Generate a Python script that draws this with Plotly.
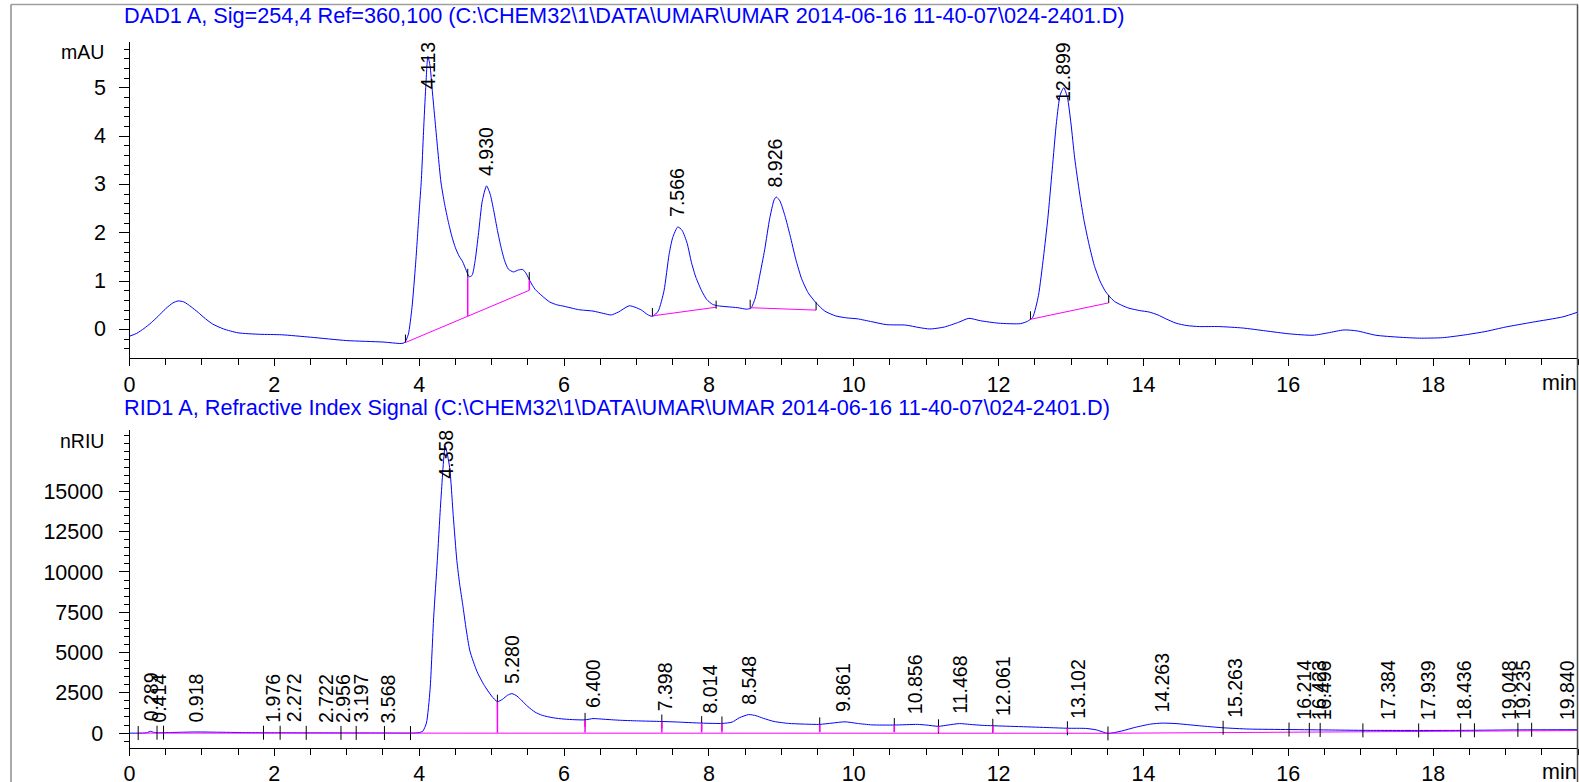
import plotly.graph_objects as go

W, H = 1579, 782
FONT = "Liberation Sans, Arial, sans-serif"
BLUE = "#0000FF"
MAG = "#FF00FF"

# ---------------- DAD1 A (upper chromatogram), time [min] / mAU ----------------
dad_t = [0.00, 0.10, 0.20, 0.30, 0.40, 0.50, 0.60, 0.67, 0.75, 0.85, 0.95, 1.05, 1.15, 1.30,
         1.50, 1.80, 2.10, 2.50, 3.00, 3.50, 3.75, 3.80, 3.85, 3.90, 3.95, 4.00, 4.03, 4.06,
         4.09, 4.12, 4.15, 4.18, 4.22, 4.26, 4.30, 4.35, 4.40, 4.45, 4.50, 4.55, 4.60, 4.65,
         4.69, 4.73, 4.77, 4.82, 4.87, 4.93, 4.98, 5.03, 5.08, 5.13, 5.18, 5.23, 5.30, 5.37,
         5.43, 5.48, 5.53, 5.60, 5.70, 5.80, 5.90, 6.00, 6.20, 6.40, 6.55, 6.65, 6.75, 6.90,
         6.98, 7.07, 7.15, 7.22, 7.30, 7.38, 7.45, 7.50, 7.57, 7.63, 7.70, 7.76, 7.82, 7.90,
         7.97, 8.05, 8.12, 8.25, 8.40, 8.52, 8.58, 8.64, 8.70, 8.77, 8.84, 8.90, 8.93, 8.98,
         9.05, 9.12, 9.20, 9.28, 9.37, 9.48, 9.60, 9.75, 9.90, 10.05, 10.25, 10.45, 10.72,
         10.90, 11.05, 11.25, 11.45, 11.59, 11.75, 12.00, 12.30, 12.40, 12.47, 12.55, 12.62,
         12.68, 12.74, 12.80, 12.85, 12.90, 12.95, 13.00, 13.05, 13.12, 13.18, 13.25, 13.32,
         13.40, 13.47, 13.52, 13.60, 13.70, 13.80, 13.95, 14.08, 14.20, 14.31, 14.45, 14.60,
         14.77, 15.04, 15.37, 15.69, 16.01, 16.34, 16.55, 16.77, 16.95, 17.21, 17.53, 17.81,
         18.13, 18.45, 18.73, 19.00, 19.37, 19.79, 20.00]
dad_v = [-0.14, -0.08, 0.02, 0.14, 0.28, 0.43, 0.55, 0.59, 0.57, 0.47, 0.35, 0.22, 0.11, 0.01,
         -0.07, -0.10, -0.11, -0.16, -0.23, -0.26, -0.29, -0.27, -0.10, 0.45, 1.35, 2.45, 3.10, 4.10,
         5.00, 5.65, 5.45, 4.95, 4.30, 3.65, 3.05, 2.60, 2.24, 1.93, 1.69, 1.52, 1.40, 1.22,
         1.09, 1.12, 1.40, 2.00, 2.65, 2.97, 2.80, 2.45, 2.05, 1.70, 1.42, 1.25, 1.19, 1.23,
         1.24, 1.15, 1.00, 0.83, 0.69, 0.57, 0.51, 0.48, 0.41, 0.38, 0.33, 0.30, 0.36, 0.49,
         0.46, 0.40, 0.31, 0.27, 0.38, 0.80, 1.55, 1.90, 2.12, 2.05, 1.78, 1.38, 1.08, 0.80,
         0.62, 0.52, 0.49, 0.47, 0.45, 0.42, 0.44, 0.65, 1.10, 1.65, 2.30, 2.68, 2.74, 2.66,
         2.35, 1.95, 1.45, 1.05, 0.76, 0.55, 0.38, 0.28, 0.24, 0.22, 0.16, 0.10, 0.09,
         0.04, 0.01, 0.05, 0.15, 0.23, 0.18, 0.13, 0.12, 0.17, 0.25, 0.70, 1.50,
         2.30, 3.30, 4.30, 4.85, 5.00, 4.80, 4.25, 3.55, 2.80, 2.25, 1.75, 1.33,
         1.00, 0.80, 0.70, 0.58, 0.50, 0.44, 0.39, 0.36, 0.30, 0.22, 0.13, 0.08,
         0.06, 0.06, 0.03, -0.03, -0.09, -0.12, -0.07, -0.01, -0.03, -0.12, -0.16, -0.18,
         -0.17, -0.11, -0.04, 0.05, 0.15, 0.26, 0.36]

dad_peak_t = [4.113, 4.930, 7.566, 8.926, 12.899]
dad_peak_v = [5.65, 2.97, 2.12, 2.74, 5.00]
dad_peak_lbl = ["4.113", "4.930", "7.566", "8.926", "12.899"]

# integration baselines (start/end)
dad_base_t0 = [3.81, 7.22, 8.57, 12.44]
dad_base_v0 = [-0.27, 0.28, 0.45, 0.21]
dad_base_t1 = [5.52, 8.10, 9.48, 13.52]
dad_base_v1 = [0.81, 0.46, 0.40, 0.55]
# drop lines (baseline -> signal)
dad_drop_t = [4.67, 5.52]
dad_drop_lo = [0.28, 0.81]
dad_drop_hi = [1.09, 1.02]
# peak start/end event ticks
dad_tick_t = [3.81, 4.67, 5.52, 7.22, 8.10, 8.57, 9.48, 12.44, 13.52]
dad_tick_v = [-0.27, 1.09, 1.02, 0.28, 0.43, 0.45, 0.40, 0.21, 0.55]

# ---------------- RID1 A (lower chromatogram), time [min] / nRIU ----------------
rid_t = [0.00, 0.20, 0.25, 0.29, 0.33, 0.40, 0.50, 0.70, 0.92, 1.20, 1.60, 2.00, 2.50, 3.00,
         3.50, 3.90, 4.00, 4.05, 4.10, 4.15, 4.20, 4.25, 4.30, 4.36, 4.42, 4.47, 4.52, 4.56,
         4.60, 4.65, 4.70, 4.80, 4.90, 5.00, 5.08, 5.15, 5.22, 5.28, 5.35, 5.42, 5.50, 5.60,
         5.70, 5.85, 6.00, 6.15, 6.29, 6.40, 6.55, 6.76, 7.00, 7.35, 7.55, 7.90, 8.18, 8.32,
         8.42, 8.55, 8.65, 8.75, 8.90, 9.10, 9.30, 9.53, 9.70, 9.88, 10.05, 10.25, 10.56,
         10.88, 11.00, 11.17, 11.30, 11.46, 11.60, 11.78, 11.92, 12.31, 12.70, 12.95, 13.20,
         13.35, 13.51, 13.70, 13.88, 14.10, 14.26, 14.45, 14.77, 15.10, 15.46, 16.01, 16.61,
         17.07, 17.81, 18.45, 19.19, 20.00]
rid_v = [0, 0, 40, 110, 50, 20, 30, 50, 70, 55, 30, 20, 15, 10,
         5, 0, 30, 120, 630, 2700, 7200, 10700, 14500, 17800, 16500, 13500, 10700, 9200,
         8000, 6400, 5100, 3800, 2950, 2300, 1950, 2100, 2350, 2450, 2300, 2000, 1650, 1300,
         1100, 950, 870, 830, 820, 900, 860, 800, 760, 720, 690, 620, 600, 680,
         950, 1150, 1080, 920, 720, 600, 560, 540, 620, 700, 600, 510, 500,
         540, 500, 420, 500, 590, 540, 480, 455, 400, 340, 300, 290,
         200, -20, 130, 350, 560, 620, 590, 455, 330, 250, 220, 190,
         170, 165, 170, 200, 210]

rid_peak_t = [0.289, 0.414, 0.918, 1.976, 2.272, 2.722, 2.956, 3.197, 3.568, 4.358, 5.280,
              6.400, 7.398, 8.014, 8.548, 9.861, 10.856, 11.468, 12.061, 13.102, 14.263,
              15.263, 16.214, 16.423, 16.496, 17.384, 17.939, 18.436, 19.048, 19.235, 19.840]
rid_peak_v = [110, 25, 70, 30, 20, 15, 12, 10, 5, 17800, 2450,
              900, 720, 620, 1150, 700, 540, 590, 440, 290, 620,
              320, 200, 195, 190, 170, 165, 170, 195, 200, 210]
rid_peak_lbl = ["0.289", "0.414", "0.918", "1.976", "2.272", "2.722", "2.956", "3.197", "3.568",
                "4.358", "5.280", "6.400", "7.398", "8.014", "8.548", "9.861", "10.856", "11.468",
                "12.061", "13.102", "14.263", "15.263", "16.214", "16.423", "16.496", "17.384",
                "17.939", "18.436", "19.048", "19.235", "19.840"]

rid_base_t = [0.12, 13.51, 20.00]
rid_base_v = [0, -10, 160]
rid_drop_t = [5.08, 6.29, 7.35, 7.90, 8.18, 9.53, 10.56, 11.17, 11.92, 12.95]
rid_drop_lo = [20, 30, 35, 40, 40, 45, 50, 55, 55, 60]
rid_drop_hi = [1950, 820, 720, 620, 600, 540, 500, 420, 455, 300]
rid_tick_t = [0.12, 0.38, 0.47, 1.85, 2.08, 2.44, 2.92, 3.13, 3.52, 3.88, 5.08, 6.29, 7.35,
              7.90, 8.18, 9.53, 10.56, 11.17, 11.92, 12.95, 13.51, 15.10, 16.01, 16.29, 16.44,
              17.03, 17.80, 18.38, 18.57, 19.17, 19.36]
rid_tick_v = [0, 25, 30, 25, 20, 15, 12, 10, 5, 0, 1950, 820, 720,
              620, 600, 540, 500, 420, 455, 300, -20, 330, 220, 200, 195,
              170, 165, 170, 175, 200, 205]

# axis tick labels
x_tick_vals = [0, 2, 4, 6, 8, 10, 12, 14, 16, 18]
dad_y_ticks = [0, 1, 2, 3, 4, 5]
rid_y_ticks = [0, 2500, 5000, 7500, 10000, 12500, 15000]

# ---------------- layout geometry (pixels) ----------------
X0_PX, X1_PX = 129.5, 1578.0
TOP_Y0, TOP_Y1 = 42.3, 357.5
BOT_Y0, BOT_Y1 = 430.0, 747.5
top_range = [-0.58, 5.94]
bot_range = [-894, 18811]
top_upp = (top_range[1] - top_range[0]) / (TOP_Y1 - TOP_Y0)
bot_upp = (bot_range[1] - bot_range[0]) / (BOT_Y1 - BOT_Y0)

def py(px):
    return (H - px) / H

def px_x(px):
    return px / W

fig = go.Figure()

def segs(x0s, y0s, x1s, y1s):
    xs, ys = [], []
    for a, b, c, d in zip(x0s, y0s, x1s, y1s):
        xs += [a, c, None]
        ys += [b, d, None]
    return xs, ys

# ---- upper panel traces
fig.add_trace(go.Scatter(x=dad_t, y=dad_v, mode="lines", xaxis="x", yaxis="y",
                         line=dict(color=BLUE, width=1, shape="spline", smoothing=0.6),
                         hoverinfo="skip", showlegend=False))
bx, by = segs(dad_base_t0, dad_base_v0, dad_base_t1, dad_base_v1)
fig.add_trace(go.Scatter(x=bx, y=by, mode="lines", xaxis="x", yaxis="y",
                         line=dict(color=MAG, width=1), hoverinfo="skip", showlegend=False))
dx, dy = segs(dad_drop_t, dad_drop_lo, dad_drop_t, dad_drop_hi)
fig.add_trace(go.Scatter(x=dx, y=dy, mode="lines", xaxis="x", yaxis="y",
                         line=dict(color=MAG, width=1.5), hoverinfo="skip", showlegend=False))
tx, ty = segs(dad_tick_t, dad_tick_v, dad_tick_t, [v + 8 * top_upp for v in dad_tick_v])
fig.add_trace(go.Scatter(x=tx, y=ty, mode="lines", xaxis="x", yaxis="y",
                         line=dict(color="black", width=1), hoverinfo="skip", showlegend=False))

# ---- lower panel traces
fig.add_trace(go.Scatter(x=rid_t, y=rid_v, mode="lines", xaxis="x2", yaxis="y2",
                         line=dict(color=BLUE, width=1, shape="spline", smoothing=0.6),
                         hoverinfo="skip", showlegend=False))
fig.add_trace(go.Scatter(x=rid_base_t, y=rid_base_v, mode="lines", xaxis="x2", yaxis="y2",
                         line=dict(color=MAG, width=1), hoverinfo="skip", showlegend=False))
tx, ty = segs(rid_tick_t, [v - 7 * bot_upp for v in rid_tick_v],
              rid_tick_t, [v + 7 * bot_upp for v in rid_tick_v])
fig.add_trace(go.Scatter(x=tx, y=ty, mode="lines", xaxis="x2", yaxis="y2",
                         line=dict(color="black", width=1), hoverinfo="skip", showlegend=False))
dx, dy = segs(rid_drop_t, rid_drop_lo, rid_drop_t, rid_drop_hi)
fig.add_trace(go.Scatter(x=dx, y=dy, mode="lines", xaxis="x2", yaxis="y2",
                         line=dict(color=MAG, width=1.5), hoverinfo="skip", showlegend=False))

# ---- axes
TICKF = dict(family=FONT, size=21.5, color="black")
UNITF = dict(family=FONT, size=19.5, color="black")
xcommon = dict(range=[0, 20], showline=True, linecolor="black", linewidth=1,
               ticks="outside", ticklen=7, tickcolor="black", tickwidth=1,
               tickmode="array", tickvals=x_tick_vals,
               minor=dict(tickmode="linear", tick0=0, dtick=0.5, ticks="outside",
                          ticklen=6, tickcolor="black"),
               showgrid=False, zeroline=False, tickfont=TICKF,
               domain=[px_x(X0_PX), px_x(X1_PX)], fixedrange=True, automargin=False)
ycommon = dict(showline=True, linecolor="black", linewidth=1, ticks="outside",
               ticklen=10, tickcolor="black", tickwidth=1, showgrid=False, zeroline=False,
               tickfont=TICKF, tickformat="d", fixedrange=True,
               automargin=False, tickmode="array")

fig.update_layout(
    width=W, height=H,
    margin=dict(l=0, r=0, t=0, b=0, autoexpand=False),
    paper_bgcolor="white", plot_bgcolor="white",
    font=dict(family=FONT, color="black"),
    xaxis=dict(xcommon, anchor="y", ticklabelstandoff=1),
    yaxis=dict(ycommon, anchor="x", range=top_range, domain=[py(TOP_Y1), py(TOP_Y0)],
               tickvals=dad_y_ticks, showticklabels=False,
               minor=dict(tickmode="linear", tick0=0, dtick=0.2, ticks="outside",
                          ticklen=5, tickcolor="black")),
    xaxis2=dict(xcommon, anchor="y2", ticklabelstandoff=0),
    yaxis2=dict(ycommon, anchor="x2", range=bot_range, domain=[py(BOT_Y1), py(BOT_Y0)],
                tickvals=rid_y_ticks, ticklabelstandoff=11,
                minor=dict(tickmode="linear", tick0=0, dtick=500, ticks="outside",
                           ticklen=5, tickcolor="black")),
)

ann = []
TITLEF = dict(family=FONT, size=21.7, color=BLUE)
ann.append(dict(text=r"DAD1 A, Sig=254,4 Ref=360,100 (C:\CHEM32\1\DATA\UMAR\UMAR 2014-06-16 11-40-07\024-2401.D)",
                x=px_x(122), y=py(15), xref="paper", yref="paper", xanchor="left", yanchor="middle",
                showarrow=False, font=TITLEF))
ann.append(dict(text=r"RID1 A, Refractive Index Signal (C:\CHEM32\1\DATA\UMAR\UMAR 2014-06-16 11-40-07\024-2401.D)",
                x=px_x(122), y=py(407), xref="paper", yref="paper", xanchor="left", yanchor="middle",
                showarrow=False, font=TITLEF))
for txt, ypx in [("mAU", 52), ("nRIU", 441)]:
    ann.append(dict(text=txt, x=px_x(106), y=py(ypx), xref="paper", yref="paper",
                    xanchor="right", yanchor="middle", showarrow=False, font=UNITF))
for ypx in [383, 772]:
    ann.append(dict(text="min", x=1.0, y=py(ypx), xref="paper", yref="paper",
                    xanchor="right", yanchor="middle", showarrow=False, font=TICKF))
# upper panel y tick labels (placed further from the axis, as in the reference)
for v in dad_y_ticks:
    ann.append(dict(text=str(v), x=px_x(108), y=v, xref="paper", yref="y",
                    xanchor="right", yanchor="middle", showarrow=False, font=TICKF))

LBLF = dict(family=FONT, size=19.5, color="black")

def label_len_px(s):
    return sum(0.278 if c == "." else 0.556 for c in s) * LBLF["size"]

def add_labels(ts, vs, lbls, xref, yref, rng, upp):
    for t, v, s in zip(ts, vs, lbls):
        bottom = v + 8 * upp
        top = bottom + label_len_px(s) * upp
        if top > rng[1]:
            ann.append(dict(text=s, x=t, y=rng[1], xref=xref, yref=yref, textangle=-90,
                            xanchor="center", yanchor="top", yshift=2,
                            showarrow=False, font=LBLF))
        else:
            ann.append(dict(text=s, x=t, y=bottom, xref=xref, yref=yref, textangle=-90,
                            xanchor="center", yanchor="bottom", showarrow=False, font=LBLF))

add_labels(dad_peak_t, dad_peak_v, dad_peak_lbl, "x", "y", top_range, top_upp)
add_labels(rid_peak_t, rid_peak_v, rid_peak_lbl, "x2", "y2", bot_range, bot_upp)

fig.update_layout(annotations=ann)

shapes = [
    dict(type="line", xref="paper", yref="paper", x0=px_x(11), x1=px_x(1578), y0=py(4.5), y1=py(4.5),
         line=dict(color="#a0a0a0", width=1.5)),
    dict(type="line", xref="paper", yref="paper", x0=px_x(11), x1=px_x(11), y0=py(4.5), y1=0,
         line=dict(color="#8c8c8c", width=1.5)),
    dict(type="line", xref="paper", yref="paper", x0=px_x(1577.5), x1=px_x(1577.5), y0=py(4.5), y1=0,
         line=dict(color="#505050", width=1.5)),
]
fig.update_layout(shapes=shapes)

fig.write_html("out.html", config=dict(displayModeBar=False),
               post_script="document.body.style.margin='0';document.body.style.overflow='hidden';")
